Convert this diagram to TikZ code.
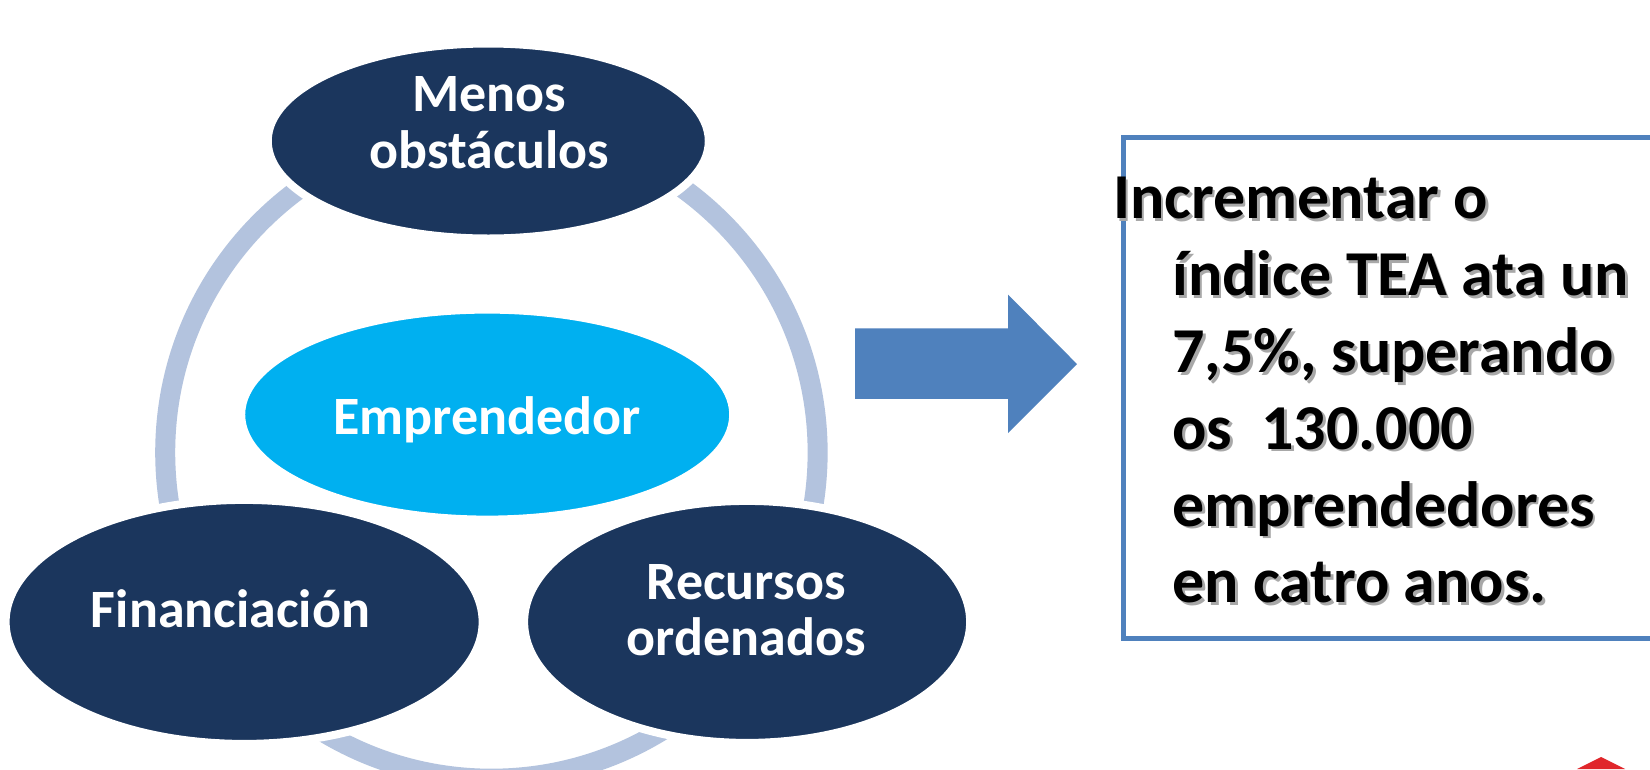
\documentclass[tikz,border=0pt]{standalone}
\usepackage{fontspec}
\setmainfont{Carlito}
\usetikzlibrary{shapes.geometric}
\definecolor{navy}{HTML}{1B365D}
\definecolor{cyanE}{HTML}{00B0F0}
\definecolor{ringc}{HTML}{B3C3DE}
\definecolor{blueA}{HTML}{4F81BD}
\definecolor{shad}{HTML}{A8A8A8}
\definecolor{redC}{HTML}{E0262B}
\begin{document}
\begin{tikzpicture}[x=1.0523pt,y=-1.0523pt,
  ell/.style={ellipse, fill=navy, draw=white, line width=8pt, inner sep=0pt},
  elltext/.style={anchor=base, text=white, font=\bfseries\fontsize{54}{55}\selectfont, inner sep=0pt},
  goal/.style={anchor=base west, inner sep=0pt, font=\bfseries\fontsize{64}{76}\selectfont},
  goalshadow/.style={goal, text=shad}]
\useasboundingbox (0,0) rectangle (1568,730.8);
\fill[white] (0,0) rectangle (1568,730.8);
% ring
\draw[ringc, line width=20pt] (467,430) circle (310);
% ellipses
\node[ell, minimum width=441pt, minimum height=195pt] (top) at (464,134) {};
\node[ell, minimum width=477pt, minimum height=244pt] (fin) at (232,591) {};
\node[ell, minimum width=446pt, minimum height=242pt] (rec) at (710,591) {};
\node[ellipse, fill=cyanE, draw=white, line width=4pt, minimum width=488pt, minimum height=206pt, inner sep=0pt] (emp) at (463,394) {};
\node[elltext] (toptext1) at (465,106) {Menos};
\node[elltext] (toptext2) at (465,160) {obstáculos};
\node[elltext] (fintext) at (219,596) {Financiación};
\node[elltext] (rectext1) at (709,570) {Recursos};
\node[elltext] (rectext2) at (709,623) {ordenados};
\node[elltext] (emptext) at (463,413) {Emprendedor};
% block arrow
\fill[blueA] (812.5,312) -- (958,312) -- (958,280) -- (1023.5,346) -- (958,411.5) -- (958,379) -- (812.5,379) -- cycle;
% goal box
\draw[blueA, line width=5pt] (1068,130.7) rectangle (1600,606.3);
\coordinate (g1) at (1057.5,208);
\coordinate (g2) at (1114,281);
\coordinate (g3) at (1114,354);
\coordinate (g4) at (1114,427);
\coordinate (g5) at (1114,500);
\coordinate (g6) at (1114,573);
\node[goalshadow] (s1) at ([shift={(2.5,2.5)}]g1) {Incrementar o};
\node[goalshadow] (s2) at ([shift={(2.5,2.5)}]g2) {índice TEA ata un};
\node[goalshadow] (s3) at ([shift={(2.5,2.5)}]g3) {7,5\%, superando};
\node[goalshadow] (s4) at ([shift={(2.5,2.5)}]g4) {os\ \ 130.000};
\node[goalshadow] (s5) at ([shift={(2.5,2.5)}]g5) {emprendedores};
\node[goalshadow] (s6) at ([shift={(2.5,2.5)}]g6) {en catro anos.};
\node[goal] (t1) at (g1) {Incrementar o};
\node[goal] (t2) at (g2) {índice TEA ata un};
\node[goal] (t3) at (g3) {7,5\%, superando};
\node[goal] (t4) at (g4) {os\ \ 130.000};
\node[goal] (t5) at (g5) {emprendedores};
\node[goal] (t6) at (g6) {en catro anos.};
% red corner mark
\fill[redC] (1498.6,730.8) -- (1521.5,719.4) -- (1544.3,730.8) -- cycle;
\end{tikzpicture}
\end{document}
